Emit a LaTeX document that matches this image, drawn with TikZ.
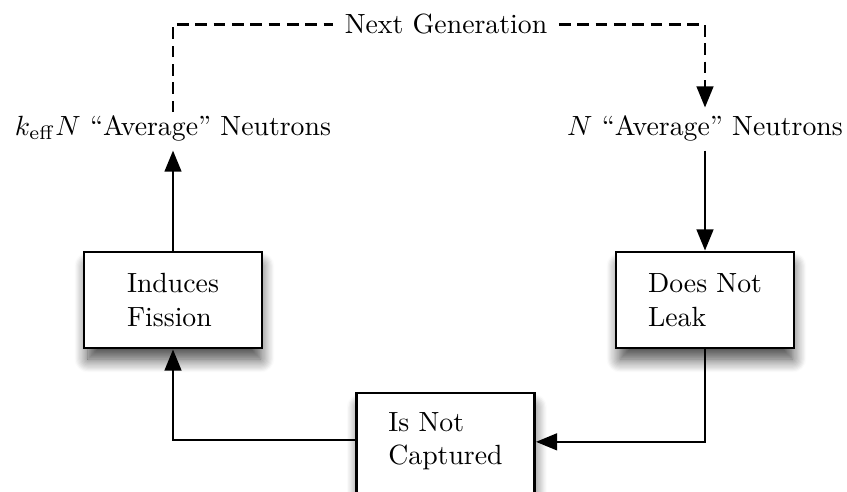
\documentclass[tikz,border=0pt]{standalone}
\usetikzlibrary{arrows.meta,shadows.blur}
\begin{document}
\begin{tikzpicture}[x=0.36pt,y=-0.36pt,
  stagebox/.style={draw=black, line width=1pt, fill=white, align=left,
    minimum width=64.1pt, minimum height=34.6pt, inner sep=0pt,
    blur shadow={shadow xshift=0.5pt, shadow yshift=-4.6pt, shadow scale=0.97,
      shadow blur radius=5pt, shadow blur steps=12, shadow opacity=75}},
  flow/.style={line width=0.85pt, -{Triangle[length=7.6pt,width=6pt]}},
  gen/.style={line width=0.85pt, dash pattern=on 4.2pt off 2.4pt},
  neutrontext/.style={inner xsep=0pt, inner ysep=0pt, anchor=base}]
\useasboundingbox (0,0) rectangle (847,491);

% population labels
\node[neutrontext, text height=8pt, text depth=5.4pt] (kn) at (173,135)
  {$k_{\mathrm{eff}}N$ ``Average'' Neutrons};
\node[neutrontext, text height=9.7pt, text depth=5.4pt] (n) at (705,135)
  {$N$ ``Average'' Neutrons};
\node[inner xsep=4pt] (next) at (446,24.5) {Next Generation};

% stages of a neutron's life
\node[stagebox] (fission) at (173,300) {Induces\\Fission};
\node[stagebox] (leak) at (705,300) {Does Not\\Leak};
\node[stagebox, minimum height=37.4pt] (capt) at (445.5,445)
  {Is Not\\Captured\rule[-4.8pt]{0pt}{0pt}};

% cycle
\draw[flow] (n.south) -- (leak.north);
\draw[flow] (leak.south) |- (capt.2.6);
\draw[flow] (capt.177.4) -| (fission.south);
\draw[flow] (fission.north) -- (kn.south);
\draw[gen] (kn.north) |- (next.west);
\draw[gen, -{Triangle[length=7.6pt,width=6pt]}] (next.east) -| (n.north);
\end{tikzpicture}
\end{document}
